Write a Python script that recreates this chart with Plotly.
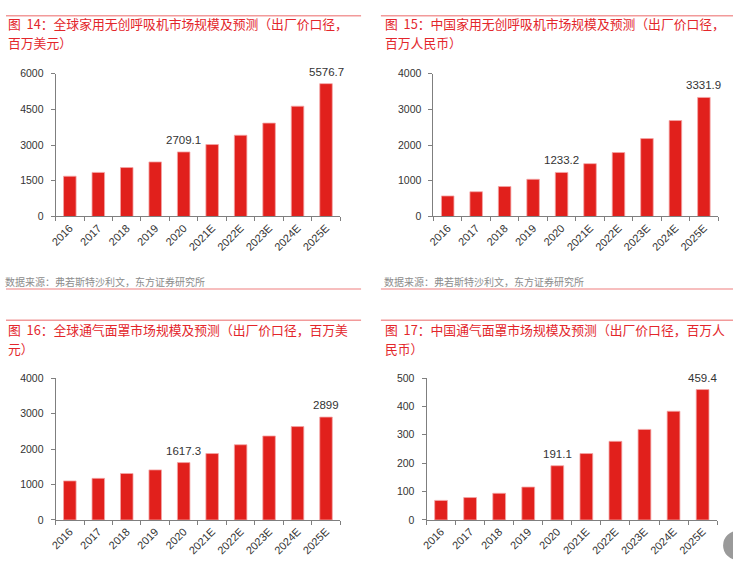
import plotly.graph_objects as go

W, H = 733, 572

years = ["2016", "2017", "2018", "2019", "2020", "2021E", "2022E", "2023E", "2024E", "2025E"]

global_ventilator = [1690, 1850, 2055, 2290, 2709.1, 3020, 3410, 3920, 4630, 5576.7]
china_ventilator = [575, 693, 838, 1041, 1233.2, 1479, 1789, 2181, 2685, 3331.9]
global_mask = [1101, 1173, 1310, 1412, 1617.3, 1872, 2120, 2367, 2632, 2899]
china_mask = [69, 79, 94, 116, 191.1, 234, 277, 319, 383, 459.4]

titles = [
    ("图\u00a0\u00a014：全球家用无创呼吸机市场规模及预测（出厂价口径，", "百万美元）"),
    ("图\u00a0\u00a015：中国家用无创呼吸机市场规模及预测（出厂价口径，", "百万人民币）"),
    ("图\u00a0\u00a016：全球通气面罩市场规模及预测（出厂价口径，百万美", "元）"),
    ("图\u00a0\u00a017：中国通气面罩市场规模及预测（出厂价口径，百万人", "民币）"),
]
labels_idx = [4, 9]
source = "数据来源：弗若斯特沙利文，东方证券研究所"

BAR = "#e1201c"
RED = "#e3262b"
FONT = "Liberation Sans, Arial, Noto Sans CJK SC, sans-serif"
CJK = "Noto Sans CJK SC, sans-serif"

def px_x(v):
    return v / W

def px_y(v):
    return 1 - v / H

# panel geometry in pixels: (x_left, x_right, y_top, y_bottom)
panels = [
    dict(data=global_ventilator, geom=(50, 337, 69, 215), rng=6000, dtick=1500),
    dict(data=china_ventilator, geom=(431, 718, 69, 215), rng=4000, dtick=1000),
    dict(data=global_mask, geom=(50, 337, 380, 525), rng=4000, dtick=1000),
    dict(data=china_mask, geom=(424, 717, 380, 525), rng=500, dtick=100),
]

fig = go.Figure()
annotations = []
shapes = []

for i, p in enumerate(panels):
    n = "" if i == 0 else str(i + 1)
    xl, xr, yt, yb = p["geom"]
    fig.add_trace(go.Bar(
        x=years, y=p["data"], xaxis="x" + n, yaxis="y" + n,
        marker=dict(color=BAR, line=dict(color="#f4a6a6", width=0.8)),
        width=0.44, showlegend=False, cliponaxis=False,
    ))
    fig.update_layout(**{
        "xaxis" + n: dict(
            domain=[px_x(xl), px_x(xr)], anchor="y" + n, type="category",
            range=[-0.5, len(years) - 0.5],
            showline=True, linecolor="#7f7f7f", linewidth=1,
            ticks="outside", tickson="boundaries", ticklen=4, tickcolor="#7f7f7f",
            tickangle=-45, tickfont=dict(size=11, color="#333333", family=FONT),
            showgrid=False, zeroline=False,
        ),
        "yaxis" + n: dict(
            domain=[px_y(yb), px_y(yt)], anchor="x" + n,
            range=[0, p["rng"]], dtick=p["dtick"], tick0=0,
            showline=True, linecolor="#7f7f7f", linewidth=1,
            ticks="outside", ticklen=4, tickcolor="#7f7f7f",
            ticklabelstandoff=5,
            tickfont=dict(size=10.5, color="#333333", family=FONT),
            showgrid=False, zeroline=False,
        ),
    })
    for k in labels_idx:
        v = p["data"][k]
        annotations.append(dict(
            x=k, y=v, xref="x" + n, yref="y" + n,
            text=f"{v:g}", showarrow=False, yanchor="bottom", yshift=4,
            font=dict(size=11.5, color="#333333", family=FONT),
        ))

# titles and separators
title_pos = [(0, 18, 37), (380, 18, 37), (0, 330, 350), (380, 330, 350)]
line_pos = [(0, 358, 10), (378, 733, 10), (0, 358, 321), (378, 733, 321)]
for (t1, t2), (tx, ty1, ty2) in zip(titles, title_pos):
    for txt, ty in ((t1, ty1), (t2, ty2)):
        annotations.append(dict(
            x=px_x(tx), y=px_y(ty), xref="paper", yref="paper",
            text=txt, showarrow=False, xanchor="left", yanchor="middle",
            font=dict(size=12.8, color=RED, family=CJK),
        ))
for x0, x1, yy in line_pos:
    shapes.append(dict(type="line", xref="paper", yref="paper",
                       x0=px_x(x0), x1=px_x(x1), y0=px_y(yy), y1=px_y(yy),
                       line=dict(color="#f29a9a", width=1.5)))

# sources and bottom separators for the top row
for sx, lx0, lx1 in ((-3, 0, 358), (379, 378, 733)):
    annotations.append(dict(
        x=px_x(sx), y=px_y(281), xref="paper", yref="paper",
        text=source, showarrow=False, xanchor="left", yanchor="middle",
        font=dict(size=10, color="#8c8c8c", family=CJK),
    ))
    shapes.append(dict(type="line", xref="paper", yref="paper",
                       x0=px_x(lx0), x1=px_x(lx1), y0=px_y(289), y1=px_y(289),
                       line=dict(color="#f4a9a9", width=1.5)))

# partially visible round button at bottom right
shapes.append(dict(type="circle", xref="paper", yref="paper",
                   x0=px_x(723), x1=px_x(753), y0=px_y(566), y1=px_y(536),
                   fillcolor="#9a9a9a", line=dict(width=0)))

fig.update_layout(
    width=W, height=H,
    margin=dict(l=0, r=0, t=0, b=0),
    paper_bgcolor="white", plot_bgcolor="white",
    bargap=0.56,
    annotations=annotations, shapes=shapes,
    font=dict(family=FONT),
)

fig.write_html("out.html")
